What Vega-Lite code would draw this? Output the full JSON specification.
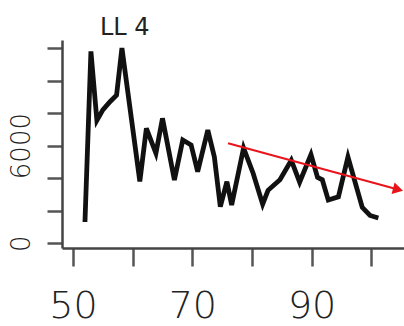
{
  "$schema": "https://vega.github.io/schema/vega-lite/v6.json",
  "autosize": "none",
  "width": 342,
  "height": 208,
  "padding": {"left": 62, "top": 40, "right": 0, "bottom": 78},
  "background": "white",
  "config": {"view": {"stroke": null}, "font": "DejaVu Sans"},
  "title": {"text": "LL 4", "anchor": "start", "frame": "group", "dx": 38, "offset": -1, "fontSize": 24, "fontWeight": "normal", "color": "#222", "font": "DejaVu Sans"},
  "datasets": {
    "series": [
      {"year": 52.0, "value": 1300},
      {"year": 53.0, "value": 11800},
      {"year": 54.0, "value": 7550},
      {"year": 55.0, "value": 8200},
      {"year": 56.2, "value": 8700},
      {"year": 57.3, "value": 9100},
      {"year": 58.2, "value": 12000},
      {"year": 61.2, "value": 3800},
      {"year": 62.3, "value": 7060},
      {"year": 63.9, "value": 5530},
      {"year": 65.0, "value": 7680},
      {"year": 67.0, "value": 3880},
      {"year": 68.4, "value": 6350},
      {"year": 69.8, "value": 6040},
      {"year": 70.9, "value": 4400},
      {"year": 72.6, "value": 6960},
      {"year": 73.7, "value": 5300},
      {"year": 74.7, "value": 2240},
      {"year": 75.8, "value": 3780},
      {"year": 76.6, "value": 2350},
      {"year": 78.6, "value": 5850},
      {"year": 80.2, "value": 4300},
      {"year": 81.8, "value": 2400},
      {"year": 82.7, "value": 3250},
      {"year": 84.7, "value": 3900},
      {"year": 86.6, "value": 5100},
      {"year": 88.0, "value": 3750},
      {"year": 89.9, "value": 5450},
      {"year": 91.0, "value": 4050},
      {"year": 91.8, "value": 3900},
      {"year": 92.8, "value": 2650},
      {"year": 94.5, "value": 2850},
      {"year": 96.1, "value": 5300},
      {"year": 98.5, "value": 2200},
      {"year": 99.8, "value": 1700},
      {"year": 101.2, "value": 1550}
    ],
    "trend": [
      {"x1": 76.0, "y1": 6150, "x2": 104.5, "y2": 3300}
    ]
  },
  "layer": [
    {
      "data": {"name": "series"},
      "mark": {"type": "line", "color": "#111", "strokeWidth": 4.8, "strokeJoin": "miter", "clip": false},
      "encoding": {
        "x": {
          "field": "year", "type": "quantitative",
          "scale": {"domain": [48.15, 105.5], "nice": false, "zero": false},
          "axis": {
            "title": null, "values": [50, 60, 70, 80, 90, 100], "tickCount": 20,
            "labelExpr": "datum.value == 50 || datum.value == 70 || datum.value == 90 ? datum.label : ''",
            "labelFontSize": 38, "labelFont": "DejaVu Sans", "labelFontWeight": 200, "labelColor": "#222",
            "labelPadding": 21, "labelFlush": false, "labelOverlap": false,
            "tickSize": 18, "tickWidth": 2.5, "tickColor": "#555",
            "domainColor": "#444", "domainWidth": 2.5, "grid": false
          }
        },
        "y": {
          "field": "value", "type": "quantitative",
          "scale": {"domain": [-300, 12500], "nice": false, "zero": false},
          "axis": {
            "title": null, "values": [0, 2000, 4000, 6000, 8000, 10000, 12000], "tickCount": 20, "format": "d",
            "labelExpr": "datum.value == 0 || datum.value == 6000 ? datum.label : ''",
            "labelAngle": -90, "labelAlign": "center", "labelBaseline": "bottom",
            "labelFontSize": 26, "labelFont": "DejaVu Sans", "labelFontWeight": 200, "labelColor": "#222",
            "labelPadding": 13, "labelOverlap": false,
            "tickSize": 15, "tickWidth": 2.5, "tickColor": "#555",
            "domainColor": "#444", "domainWidth": 2.5, "grid": false
          }
        }
      }
    },
    {
      "data": {"name": "trend"},
      "mark": {"type": "rule", "color": "#e8141c", "strokeWidth": 2},
      "encoding": {
        "x": {"field": "x1", "type": "quantitative"},
        "y": {"field": "y1", "type": "quantitative"},
        "x2": {"field": "x2"},
        "y2": {"field": "y2"}
      }
    },
    {
      "data": {"name": "trend"},
      "mark": {"type": "point", "shape": "triangle-right", "filled": true, "color": "#e8141c", "size": 140, "angle": 15, "opacity": 1},
      "encoding": {
        "x": {"field": "x2", "type": "quantitative"},
        "y": {"field": "y2", "type": "quantitative"}
      }
    }
  ]
}
